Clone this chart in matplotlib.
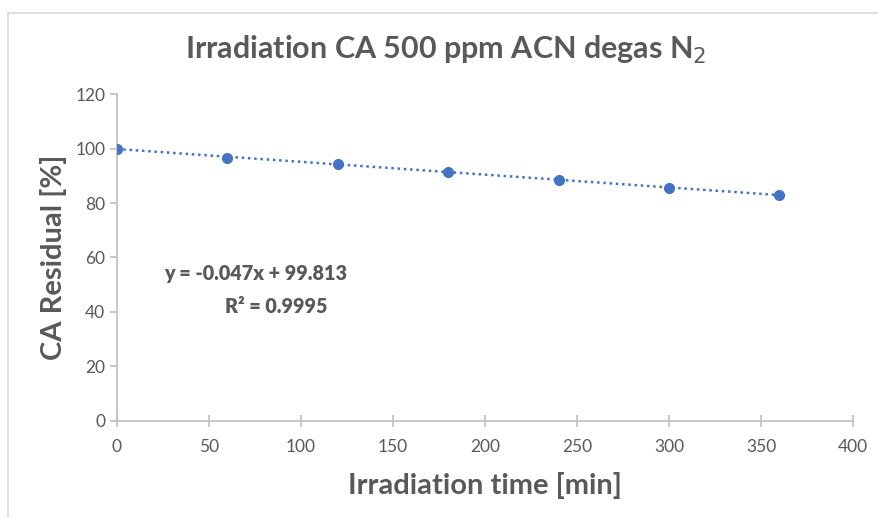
import numpy as np
import matplotlib.pyplot as plt
from matplotlib.patches import Rectangle

# data
time_min = [0, 60, 120, 180, 240, 300, 360]
residual_pct = [99.8, 96.7, 94.2, 91.4, 88.4, 85.6, 82.8]
slope = -0.047
intercept = 99.813
r2 = 0.9995

plt.rcParams['font.family'] = ['Lato', 'DejaVu Sans']
grey = '#595959'
blue = '#4472C4'

fig = plt.figure(figsize=(8.79, 5.18), dpi=100)
ax = fig.add_axes([0.1331, 0.1873, 0.8373, 0.6312])

# chart frame like the excel chart area
fig.patches.append(Rectangle((8 / 879, -0.05), 1.0, 1 - 13 / 518 + 0.05,
                             transform=fig.transFigure, fill=False,
                             edgecolor='#d9d9d9', linewidth=1.2))

xfit = np.array([0, 360])
ax.plot(xfit, slope * xfit + intercept, linestyle=(0, (1, 1.5)), color=blue,
        linewidth=1.8)
ax.plot(time_min, residual_pct, 'o', color=blue, markersize=7, zorder=3)

ax.set_xlim(0, 400)
ax.set_ylim(0, 120)
ax.set_xticks(np.arange(0, 401, 50))
ax.set_yticks(np.arange(0, 121, 20))

for s in ['top', 'right']:
    ax.spines[s].set_visible(False)
for s in ['left', 'bottom']:
    ax.spines[s].set_color('#bfbfbf')
    ax.spines[s].set_linewidth(1.2)
ax.tick_params(axis='both', colors='#bfbfbf', labelcolor=grey, labelsize=12.5,
               length=5, width=1.2)
ax.tick_params(axis='x', direction='inout', length=8, pad=9)

fig.text(0.507, 1 - 50 / 518, 'Irradiation CA 500 ppm ACN degas N$_2$',
         fontsize=22, fontweight='bold', color=grey, ha='center', va='center')
ax.set_xlabel('Irradiation time [min]', fontsize=21, fontweight='bold',
              color=grey, labelpad=12)
ax.set_ylabel('CA Residual [%]', fontsize=21, fontweight='bold',
              color=grey, labelpad=6)

eq_x = [(256 - 117) / 1.84, (276 - 117) / 1.84]
ax.text(eq_x[0], (421 - 280) / 2.725, 'y = -0.047x + 99.813', fontsize=14.2,
        fontweight='heavy', color=grey, ha='center', va='baseline')
ax.text(eq_x[1], (421 - 313) / 2.725, 'R² = {}'.format(r2), fontsize=14.2,
        fontweight='heavy', color=grey, ha='center', va='baseline')

fig.savefig('out.png', dpi=100)
